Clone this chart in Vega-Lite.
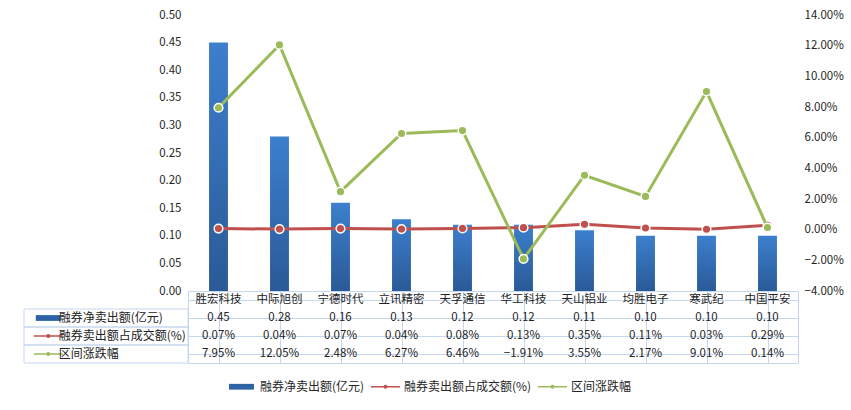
{
  "$schema": "https://vega.github.io/schema/vega-lite/v6.json",
  "padding": {"left": 23, "top": 9, "right": 0, "bottom": 0},
  "background": "white",
  "config": {
    "view": {"stroke": null},
    "font": "Noto Sans CJK SC",
    "text": {"font": "Noto Sans CJK SC", "fontSize": 11.5, "color": "#222222"},
    "axis": {"labelFont": "Noto Sans CJK SC", "labelFontSize": 11.5, "labelColor": "#262626"},
    "legend": {"labelFont": "Noto Sans CJK SC", "labelFontSize": 12, "labelColor": "#262626"}
  },
  "datasets": {
    "stocks": [
      {"name": "胜宏科技", "net": 0.45, "ratio": 0.0007, "chg": 0.0795},
      {"name": "中际旭创", "net": 0.28, "ratio": 0.0004, "chg": 0.1205},
      {"name": "宁德时代", "net": 0.16, "ratio": 0.0007, "chg": 0.0248},
      {"name": "立讯精密", "net": 0.13, "ratio": 0.0004, "chg": 0.0627},
      {"name": "天孚通信", "net": 0.12, "ratio": 0.0008, "chg": 0.0646},
      {"name": "华工科技", "net": 0.12, "ratio": 0.0013, "chg": -0.0191},
      {"name": "天山铝业", "net": 0.11, "ratio": 0.0035, "chg": 0.0355},
      {"name": "均胜电子", "net": 0.10, "ratio": 0.0011, "chg": 0.0217},
      {"name": "寒武纪", "net": 0.10, "ratio": 0.0003, "chg": 0.0901},
      {"name": "中国平安", "net": 0.10, "ratio": 0.0029, "chg": 0.0014}
    ],
    "series": [
      {"series": "融券净卖出额(亿元)"},
      {"series": "融券卖出额占成交额(%)"},
      {"series": "区间涨跌幅"}
    ]
  },
  "columns": 2,
  "spacing": 0,
  "bounds": "flush",
  "concat": [
    {
      "width": 164,
      "height": 276,
      "data": {"values": [{}]},
      "mark": {"type": "text", "text": ""}
    },
    {
      "width": 610,
      "height": 276,
      "data": {"name": "stocks"},
      "encoding": {
        "x": {"field": "name", "type": "nominal", "sort": null, "axis": null,
              "scale": {"paddingInner": 0.69, "paddingOuter": 0.345}}
      },
      "layer": [
        {
          "mark": {"type": "bar", "fill": {"gradient": "linear", "x1": 0, "y1": 0, "x2": 0, "y2": 1,
                   "stops": [{"offset": 0, "color": "#3c7fcd"}, {"offset": 1, "color": "#2a5a97"}]}},
          "encoding": {
            "y": {"field": "net", "type": "quantitative", "scale": {"domain": [0, 0.5]},
                  "axis": {"orient": "left", "values": [0, 0.05, 0.1, 0.15, 0.2, 0.25, 0.3, 0.35, 0.4, 0.45, 0.5],
                           "format": ".2f", "grid": false, "domain": false, "ticks": false, "labelPadding": 7, "title": null}}
          }
        },
        {
          "layer": [
            {
              "mark": {"type": "line", "color": "#c0504d", "strokeWidth": 3,
                       "point": {"filled": true, "fill": "#c0504d", "stroke": "white", "strokeWidth": 1.5, "size": 75, "opacity": 1}},
              "encoding": {
                "y": {"field": "ratio", "type": "quantitative", "scale": {"domain": [-0.04, 0.14]},
                      "axis": {"orient": "right", "values": [-0.04, -0.02, 0, 0.02, 0.04, 0.06, 0.08, 0.1, 0.12, 0.14],
                               "format": ".2%", "grid": false, "domain": false, "ticks": false, "labelPadding": 6, "title": null}}
              }
            },
            {
              "mark": {"type": "line", "color": "#9bbb59", "strokeWidth": 3,
                       "point": {"filled": true, "fill": "#9bbb59", "stroke": "white", "strokeWidth": 1.5, "size": 75, "opacity": 1}},
              "encoding": {
                "y": {"field": "chg", "type": "quantitative", "scale": {"domain": [-0.04, 0.14]},
                      "axis": {"orient": "right", "values": [-0.04, -0.02, 0, 0.02, 0.04, 0.06, 0.08, 0.1, 0.12, 0.14],
                               "format": ".2%", "grid": false, "domain": false, "ticks": false, "labelPadding": 6, "title": null}}
              }
            }
          ]
        }
      ],
      "resolve": {"scale": {"y": "independent"}}
    },
    {
      "width": 164,
      "height": 72,
      "data": {"name": "series"},
      "encoding": {
        "y": {"field": "series", "type": "nominal", "axis": null,
              "scale": {"domain": ["header", "融券净卖出额(亿元)", "融券卖出额占成交额(%)", "区间涨跌幅"], "paddingInner": 0, "paddingOuter": 0}}
      },
      "layer": [
        {
          "mark": {"type": "rect", "fill": "transparent", "stroke": "#c5d7ee", "strokeWidth": 1}
        },
        {
          "mark": {"type": "point", "filled": true, "size": 841, "opacity": 1, "strokeWidth": 0},
          "encoding": {
            "x": {"datum": "sym", "type": "nominal", "axis": null,
                  "scale": {"type": "point", "domain": ["sym", "txt"], "range": [19, 40]}},
            "shape": {"field": "series", "type": "nominal",
                      "scale": {"domain": ["融券净卖出额(亿元)", "融券卖出额占成交额(%)", "区间涨跌幅"],
                                "range": ["M-0.86,-0.2H0.86V0.2H-0.86Z",
                                          "M-1,-0.055H1V0.055H-1Z M-0.14,0A0.14,0.14,0,1,1,0.14,0A0.14,0.14,0,1,1,-0.14,0Z",
                                          "M-1,-0.055H1V0.055H-1Z M-0.14,0A0.14,0.14,0,1,1,0.14,0A0.14,0.14,0,1,1,-0.14,0Z"]},
                      "legend": {"title": null, "orient": "none", "legendX": 203, "legendY": 357, "direction": "horizontal", "symbolSize": 841,
                                 "symbolStrokeWidth": 0, "columnPadding": 6, "labelOffset": 4}},
            "color": {"field": "series", "type": "nominal",
                      "scale": {"domain": ["融券净卖出额(亿元)", "融券卖出额占成交额(%)", "区间涨跌幅"],
                                "range": ["#2f62a5", "#c0504d", "#9bbb59"]},
                      "legend": {"title": null, "orient": "none", "legendX": 203, "legendY": 357, "direction": "horizontal", "symbolSize": 841,
                                 "symbolStrokeWidth": 0, "columnPadding": 6, "labelOffset": 4}}
          }
        },
        {
          "mark": {"type": "text", "align": "left", "baseline": "middle", "fontSize": 12},
          "encoding": {
            "x": {"datum": "txt", "type": "nominal"},
            "text": {"field": "series"}
          }
        }
      ]
    },
    {
      "width": 610,
      "height": 72,
      "data": {"name": "stocks"},
      "view": {"stroke": "#c5d7ee"},
      "encoding": {
        "x": {"field": "name", "type": "nominal", "sort": null,
              "scale": {"paddingInner": 0, "paddingOuter": 0},
              "axis": {"grid": true, "bandPosition": 0, "gridColor": "#c5d7ee", "labels": false, "ticks": false, "domain": false, "title": null}}
      },
      "layer": [
        {
          "mark": {"type": "text", "baseline": "middle", "fontSize": 11.5},
          "encoding": {
            "y": {"datum": "header", "type": "nominal",
                  "scale": {"domain": ["header", "融券净卖出额(亿元)", "融券卖出额占成交额(%)", "区间涨跌幅"], "paddingInner": 0, "paddingOuter": 0},
                  "axis": {"grid": true, "bandPosition": 0, "gridColor": "#c5d7ee", "labels": false, "ticks": false, "domain": false, "title": null}},
            "text": {"field": "name"}
          }
        },
        {
          "mark": {"type": "text", "baseline": "middle", "fontSize": 11.5},
          "encoding": {
            "y": {"datum": "融券净卖出额(亿元)", "type": "nominal"},
            "text": {"field": "net", "type": "quantitative", "format": ".2f"}
          }
        },
        {
          "mark": {"type": "text", "baseline": "middle", "fontSize": 11.5},
          "encoding": {
            "y": {"datum": "融券卖出额占成交额(%)", "type": "nominal"},
            "text": {"field": "ratio", "type": "quantitative", "format": ".2%"}
          }
        },
        {
          "mark": {"type": "text", "baseline": "middle", "fontSize": 11.5},
          "encoding": {
            "y": {"datum": "区间涨跌幅", "type": "nominal"},
            "text": {"field": "chg", "type": "quantitative", "format": ".2%"}
          }
        }
      ]
    }
  ]
}
